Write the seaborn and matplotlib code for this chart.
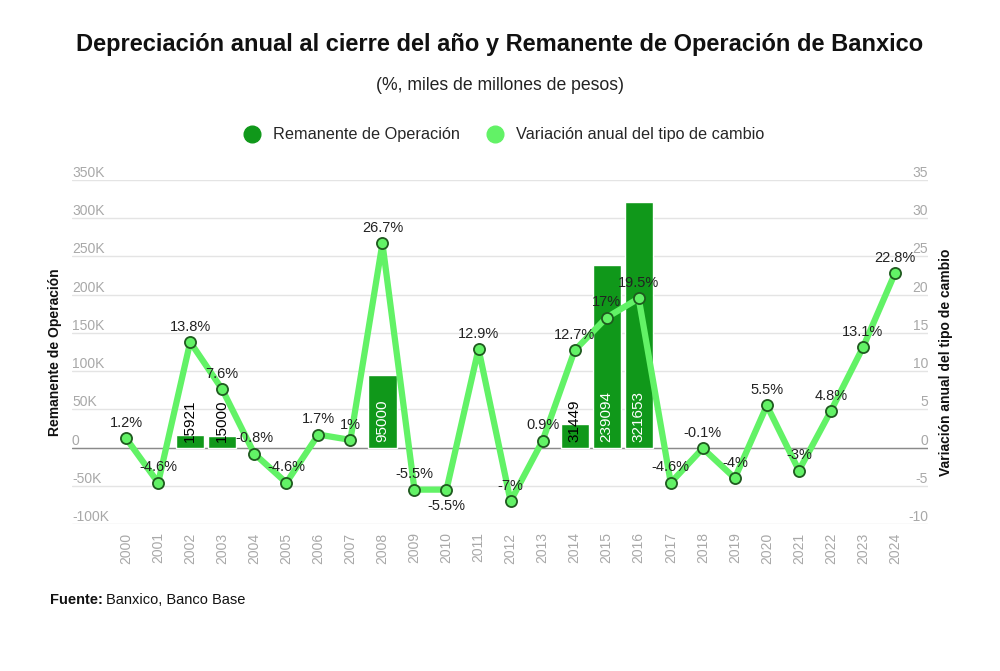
import matplotlib
matplotlib.use("Agg")
import matplotlib.pyplot as plt
from matplotlib.lines import Line2D
from matplotlib.ticker import FuncFormatter
import seaborn as sns
import pandas as pd
import numpy as np

years = [str(y) for y in range(2000, 2025)]
variacion = [1.2, -4.6, 13.8, 7.6, -0.8, -4.6, 1.7, 1, 26.7, -5.5, -5.5, 12.9, -7,
             0.9, 12.7, 17, 19.5, -4.6, -0.1, -4, 5.5, -3, 4.8, 13.1, 22.8]
var_labels = ["1.2%", "-4.6%", "13.8%", "7.6%", "-0.8%", "-4.6%", "1.7%", "1%", "26.7%",
              "-5.5%", "-5.5%", "12.9%", "-7%", "0.9%", "12.7%", "17%", "19.5%", "-4.6%",
              "-0.1%", "-4%", "5.5%", "-3%", "4.8%", "13.1%", "22.8%"]
remanente = [np.nan, np.nan, 15921, 15000, np.nan, np.nan, np.nan, np.nan, 95000,
             np.nan, np.nan, np.nan, np.nan, np.nan, 31449, 239094, 321653,
             np.nan, np.nan, np.nan, np.nan, np.nan, np.nan, np.nan, np.nan]

DARK = "#10981a"
LIGHT = "#62f266"
GRAY = "#a8a8a8"

sns.set_theme(style="white")
plt.rcParams["font.family"] = ["Liberation Sans", "DejaVu Sans"]
plt.rcParams["axes.unicode_minus"] = False

df = pd.DataFrame({"year": years, "remanente": remanente})

fig = plt.figure(figsize=(10, 6.71), dpi=100)
ax = fig.add_axes([0.072, 0.219, 0.856, 0.513])

sns.barplot(data=df, x="year", y="remanente", order=years, color=DARK,
            width=0.88, saturation=1, ax=ax, zorder=2)

for i, v in enumerate(remanente):
    if np.isnan(v):
        continue
    ax.annotate(f"{int(v)}", (i, 0), xytext=(0, 4), textcoords="offset points",
                rotation=90, ha="center", va="bottom", fontsize=11,
                color="white" if v > 60000 else "black", zorder=3)

ax.set_ylim(-100000, 350000)
ax.set_yticks(np.arange(-100000, 350001, 50000))
ax.yaxis.set_major_formatter(FuncFormatter(lambda v, p: "0" if v == 0 else f"{int(v/1000)}K"))
ax.set_xlim(-1.69, 25.03)
ax.grid(axis="y", color="#e4e4e4", linewidth=1, zorder=0)
ax.grid(axis="x", visible=False)
ax.axhline(0, color="#8a8a8a", linewidth=1, zorder=1)
for s in ax.spines.values():
    s.set_visible(False)
ax.tick_params(axis="y", length=0, pad=0, labelsize=10, labelcolor=GRAY)
ax.tick_params(axis="x", length=0, pad=6, labelsize=10, labelcolor=GRAY, labelrotation=90)
for t in ax.get_yticklabels():
    t.set_ha("left")
    t.set_va("bottom")
ax.set_xlabel("")
ax.set_ylabel("")

ax2 = ax.twinx()
sns.lineplot(x=np.arange(len(years)), y=variacion, ax=ax2, color=LIGHT, linewidth=4.5,
             marker="o", markersize=8, markerfacecolor=LIGHT, markeredgecolor="#1f5a1f",
             markeredgewidth=1.3, zorder=4)
ax2.set_ylim(-10, 35)
ax2.set_yticks(np.arange(-10, 36, 5))
for s in ax2.spines.values():
    s.set_visible(False)
ax2.tick_params(axis="y", length=0, pad=0, labelsize=10, labelcolor=GRAY)
for t in ax2.get_yticklabels():
    t.set_ha("right")
    t.set_va("bottom")
ax2.set_ylabel("")

for i, (v, lab) in enumerate(zip(variacion, var_labels)):
    below = years[i] == "2010"
    ax2.annotate(lab, (i, v), xytext=(0, -7 if below else 6), textcoords="offset points",
                 ha="center", va="top" if below else "bottom", fontsize=10.5,
                 color="#222222", zorder=5)

fig.text(0.5, 0.933, "Depreciación anual al cierre del año y Remanente de Operación de Banxico",
         ha="center", va="center", fontsize=17, fontweight="bold", color="#111111")
fig.text(0.5, 0.873, "(%, miles de millones de pesos)", ha="center", va="center",
         fontsize=12.7, color="#222222")

fig.text(0.055, 0.475, "Remanente de Operación", rotation=90, ha="center", va="center",
         fontsize=10, fontweight="bold", color="#111111")
fig.text(0.946, 0.46, "Variación anual del tipo de cambio", rotation=90, ha="center",
         va="center", fontsize=10, fontweight="bold", color="#111111")

handles = [Line2D([], [], linestyle="", marker="o", markersize=12, color=DARK),
           Line2D([], [], linestyle="", marker="o", markersize=12, color=LIGHT)]
fig.legend(handles, ["Remanente de Operación", "Variación anual del tipo de cambio"],
           loc="center", bbox_to_anchor=(0.5, 0.799), ncol=2, frameon=False,
           fontsize=11.7, handletextpad=0.3, columnspacing=1.2)

f1 = fig.text(0.05, 0.106, "Fuente:", ha="left", va="center", fontsize=10.5,
              fontweight="bold", color="#111111")
fig.canvas.draw()
bb = f1.get_window_extent(renderer=fig.canvas.get_renderer())
fig.text(bb.x1 / fig.bbox.width + 0.003, 0.106, "Banxico, Banco Base", ha="left",
         va="center", fontsize=10.5, color="#111111")

fig.savefig("out.png", dpi=100)
